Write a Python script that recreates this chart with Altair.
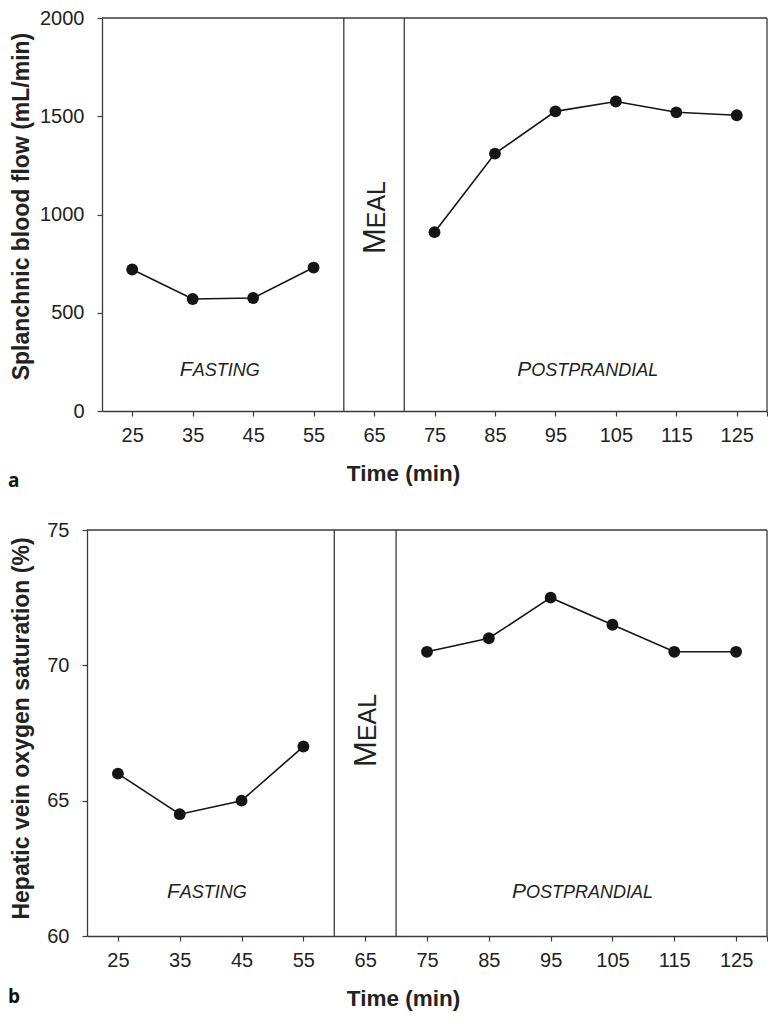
import altair as alt
import pandas as pd

# ---------------- data ----------------
time_fasting = [25, 35, 45, 55]
time_post = [75, 85, 95, 105, 115, 125]
flow_fasting = [720, 570, 575, 730]
flow_post = [910, 1310, 1525, 1575, 1520, 1505]
sat_fasting = [66.0, 64.5, 65.0, 67.0]
sat_post = [70.5, 71.0, 72.5, 71.5, 70.5, 70.5]

x_ticks = [25, 35, 45, 55, 65, 75, 85, 95, 105, 115, 125, 130]
x_domain = [20, 130]
meal_bounds = [60, 70]
flow_ticks = [0, 500, 1000, 1500, 2000]
flow_domain = [0, 2000]
sat_ticks = [60, 65, 70, 75]
sat_domain = [60, 75]

phase_big = ["F", "P"]
phase_small = ["ASTING", "OSTPRANDIAL"]
phase_pos_t = [35, 91]
meal_big = "M"
meal_small = "EAL"

FONT = "Liberation Sans"
INK = "#151515"
FRAME = "#3a3a3a"
TEXT = "#222222"


def panel(fast, post, ydom, yticks, ytitle, letter, width, height, xrange,
          yoffset, ytitle_x, ytitle_y, label_v, meal_v, letter_y):
    series = pd.DataFrame({
        "t": time_fasting + time_post,
        "v": fast + post,
        "phase": ["fasting"] * len(fast) + ["post"] * len(post),
    })
    frame = pd.DataFrame({
        "t": [meal_bounds[0], meal_bounds[1], x_domain[0], x_domain[1]],
        "t2": [meal_bounds[0], meal_bounds[1], x_domain[1], x_domain[1]],
        "v": [ydom[0], ydom[0], ydom[1], ydom[0]],
        "v2": [ydom[1], ydom[1], ydom[1], ydom[1]],
    })
    phases = pd.DataFrame({
        "t": phase_pos_t,
        "v": [label_v, label_v],
        "big": phase_big,
        "small": phase_small,
    })
    meal = pd.DataFrame({"t": [sum(meal_bounds) / 2], "v": [meal_v],
                         "big": [meal_big], "small": [meal_small]})

    X = alt.X(
        "t:Q",
        scale=alt.Scale(domain=x_domain, range=xrange, nice=False, zero=False),
        axis=alt.Axis(
            values=x_ticks,
            labelExpr="datum.value == 130 ? '' : datum.label",
            title="Time (min)",
            titleFont=FONT, titleFontSize=22.5, titleFontWeight="bold",
            titleColor=TEXT, titleX=316, titlePadding=17,
            labelFont=FONT, labelFontSize=20, labelColor=TEXT,
            labelPadding=9, tickSize=5, tickColor=FRAME, domainColor=FRAME,
            tickWidth=1.2, domainWidth=1.3, grid=False, labelFlush=False,
        ),
    )
    Y = alt.Y(
        "v:Q",
        scale=alt.Scale(domain=ydom, nice=False, zero=False),
        axis=alt.Axis(
            values=yticks, format="d",
            title=ytitle,
            titleFont=FONT, titleFontSize=23, titleFontWeight="bold",
            titleColor=TEXT, titleX=ytitle_x, titleY=ytitle_y,
            titleBaseline="middle",
            labelFont=FONT, labelFontSize=20, labelColor=TEXT,
            labelPadding=13, tickSize=5, tickColor=FRAME, domainColor=FRAME,
            tickWidth=1.2, domainWidth=1.3, grid=False, offset=yoffset,
            labelFlush=False,
        ),
    )

    rules = alt.Chart(frame).mark_rule(color=FRAME, strokeWidth=1.3).encode(
        x=X, x2="t2:Q", y=Y, y2="v2:Q")
    line = alt.Chart(series).mark_line(color=INK, strokeWidth=1.6).encode(
        x=X, y=Y, detail="phase:N")
    pts = alt.Chart(series).mark_circle(color=INK, size=140, opacity=1).encode(
        x=X, y=Y)
    p_big = alt.Chart(phases).mark_text(
        align="right", baseline="alphabetic", font=FONT, fontSize=21,
        fontStyle="italic", color=TEXT).encode(x=X, y=Y, text="big:N")
    p_small = alt.Chart(phases).mark_text(
        align="left", baseline="alphabetic", font=FONT, fontSize=18,
        fontStyle="italic", color=TEXT).encode(x=X, y=Y, text="small:N")
    m_big = alt.Chart(meal).mark_text(
        angle=270, align="right", baseline="alphabetic", dy=11, font=FONT,
        fontSize=31, color=TEXT).encode(x=X, y=Y, text="big:N")
    m_small = alt.Chart(meal).mark_text(
        angle=270, align="left", baseline="alphabetic", dy=11, font=FONT,
        fontSize=25, color=TEXT).encode(x=X, y=Y, text="small:N")
    lab = alt.Chart(pd.DataFrame({"s": [letter]})).mark_text(
        align="left", baseline="alphabetic", font="Open Sans", fontSize=19,
        fontWeight="bold", color="#111").encode(
        x=alt.value(-79), y=alt.value(letter_y), text="s:N")

    return alt.layer(rules, line, pts, p_big, p_small, m_big, m_small, lab).properties(
        width=width, height=height)


top = panel(flow_fasting, flow_post, flow_domain, flow_ticks,
            "Splanchnic blood flow (mL/min)", "a",
            width=680, height=393, xrange=[15, 680], yoffset=-15,
            ytitle_x=-81, ytitle_y=188, label_v=180, meal_v=930, letter_y=469)
bottom = panel(sat_fasting, sat_post, sat_domain, sat_ticks,
               "Hepatic vein oxygen saturation (%)", "b",
               width=680, height=406, xrange=[0, 680], yoffset=0,
               ytitle_x=-66, ytitle_y=198, label_v=61.4, meal_v=67.2, letter_y=473)

chart = alt.vconcat(top, bottom, spacing=29).properties(
    padding={"left": 0, "top": 0, "right": 0, "bottom": 3}
).configure_view(strokeWidth=0)

chart.save("out.html", embed_options={"renderer": "svg", "actions": False})
